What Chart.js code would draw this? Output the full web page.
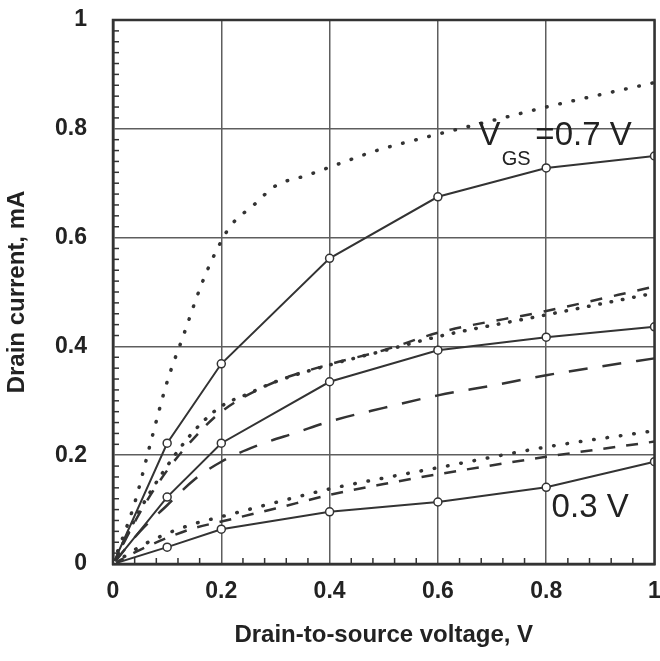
<!DOCTYPE html>
<html>
<head>
<meta charset="utf-8">
<script src="https://cdn.jsdelivr.net/npm/chart.js@4/dist/chart.umd.min.js"></script>
<style>
  body { margin: 0; background: #fff; }
  #wrap { width: 660px; height: 661px; }
</style>
</head>
<body>
<div id="wrap"><canvas id="chart"></canvas></div>
<script>
// measured points (solid lines with open circles)
const vdsMeas = [0, 0.1, 0.2, 0.4, 0.6, 0.8, 1];
const idMeas07 = [0, 0.222, 0.368, 0.562, 0.675, 0.728, 0.75];
const idMeas05 = [0, 0.123, 0.222, 0.335, 0.393, 0.417, 0.436];
const idMeas03 = [0, 0.031, 0.064, 0.096, 0.114, 0.141, 0.188];

// dotted model curves
const vdsDot07 = [0, 0.04, 0.07, 0.1, 0.13, 0.165, 0.19, 0.216, 0.26, 0.3, 0.36, 0.41, 0.49, 0.58, 0.74, 0.8, 1];
const idDot07 = [0, 0.112, 0.225, 0.335, 0.42, 0.518, 0.574, 0.62, 0.66, 0.695, 0.715, 0.733, 0.761, 0.785, 0.825, 0.84, 0.885];
const vdsDot05 = [0, 0.05, 0.1, 0.15, 0.2, 0.25, 0.3, 0.4, 0.5, 0.6, 0.8, 1];
const idDot05 = [0, 0.1, 0.18, 0.245, 0.29, 0.313, 0.335, 0.366, 0.392, 0.418, 0.458, 0.498];
const vdsDot03 = [0, 0.05, 0.1, 0.15, 0.2, 0.3, 0.4, 0.5, 0.6, 0.8, 1];
const idDot03 = [0, 0.032, 0.056, 0.074, 0.087, 0.113, 0.138, 0.158, 0.177, 0.215, 0.245];

// dashed model curves
const vdsDash05 = [0, 0.05, 0.1, 0.15, 0.2, 0.3, 0.4, 0.5, 0.6, 0.8, 1];
const idDash05 = [0, 0.095, 0.172, 0.232, 0.28, 0.335, 0.367, 0.393, 0.425, 0.465, 0.51];
const vdsDash03 = [0, 0.05, 0.1, 0.15, 0.2, 0.3, 0.4, 0.5, 0.6, 0.8, 1];
const idDash03 = [0, 0.026, 0.048, 0.066, 0.078, 0.102, 0.127, 0.147, 0.165, 0.197, 0.225];

// long dashed curve
const vdsLong = [0, 0.05, 0.1, 0.15, 0.2, 0.27, 0.34, 0.4, 0.5, 0.6, 0.7, 0.8, 0.9, 1];
const idLong = [0, 0.06, 0.108, 0.155, 0.188, 0.219, 0.242, 0.262, 0.287, 0.31, 0.328, 0.347, 0.363, 0.378];

const ink = '#333';
const fontFam = '"Liberation Sans", Arial, Helvetica, sans-serif';

function pts(xs, ys) {
  return xs.map((x, i) => ({ x: x, y: ys[i] }));
}

function measured(ys) {
  return {
    data: pts(vdsMeas, ys),
    showLine: true,
    borderColor: ink,
    borderWidth: 2,
    pointRadius: 4,
    pointBackgroundColor: '#fff',
    pointBorderColor: ink,
    pointBorderWidth: 1.5
  };
}

function model(xs, ys, dash, width) {
  return {
    data: pts(xs, ys),
    showLine: true,
    borderColor: ink,
    borderWidth: width,
    borderDash: dash,
    borderCapStyle: dash[0] < 2 ? 'round' : 'butt',
    cubicInterpolationMode: 'monotone',
    pointRadius: 0
  };
}

// drop the automatic label overhang so the plot fills the frame like the original
function noOverhang(scale) {
  scale.paddingLeft = 0;
  scale.paddingRight = 0;
  scale.paddingTop = 0;
  scale.paddingBottom = 0;
}

// frame, inward minor ticks and curve labels
const extras = {
  id: 'extras',
  afterDraw(chart) {
    const { ctx, chartArea: a, scales: { x, y } } = chart;
    ctx.save();
    ctx.strokeStyle = ink;
    ctx.lineWidth = 1.5;
    for (let i = 1; i < 50; i++) {
      if (i % 10 === 0) continue;
      const py = y.getPixelForValue(i * 0.02);
      ctx.beginPath();
      ctx.moveTo(a.left, py);
      ctx.lineTo(a.left + 6, py);
      ctx.stroke();
    }
    for (let i = 1; i < 25; i++) {
      if (i % 5 === 0) continue;
      const px = x.getPixelForValue(i * 0.04);
      ctx.beginPath();
      ctx.moveTo(px, a.bottom);
      ctx.lineTo(px, a.bottom - 6);
      ctx.stroke();
    }
    ctx.lineWidth = 2.5;
    ctx.strokeRect(a.left, a.top, a.right - a.left, a.bottom - a.top);

    ctx.fillStyle = '#222';
    ctx.textBaseline = 'alphabetic';
    ctx.textAlign = 'left';
    ctx.font = '33px ' + fontFam;
    ctx.fillText('V', x.getPixelForValue(0.675), y.getPixelForValue(0.77));
    ctx.fillText('=0.7 V', x.getPixelForValue(0.78), y.getPixelForValue(0.77));
    ctx.fillText('0.3 V', x.getPixelForValue(0.81), y.getPixelForValue(0.086));
    ctx.font = '20px ' + fontFam;
    ctx.fillText('GS', x.getPixelForValue(0.718), y.getPixelForValue(0.733));
    ctx.restore();
  }
};

const tickFont = { family: fontFam, size: 23, weight: 'bold' };
const titleFont = { family: fontFam, size: 24, weight: 'bold' };

new Chart(document.getElementById('chart'), {
  type: 'scatter',
  data: {
    datasets: [
      measured(idMeas07),
      measured(idMeas05),
      measured(idMeas03),
      model(vdsDot07, idDot07, [0.5, 13], 3.5),
      model(vdsDot05, idDot05, [0.5, 11], 3.5),
      model(vdsDot03, idDot03, [0.5, 13], 3.5),
      model(vdsDash05, idDash05, [12, 12], 2.5),
      model(vdsDash03, idDash03, [12, 11], 2.5),
      model(vdsLong, idLong, [19, 15], 2.5)
    ]
  },
  options: {
    responsive: true,
    maintainAspectRatio: false,
    animation: false,
    layout: { padding: { top: 20, right: 5, left: 0, bottom: 0 } },
    plugins: {
      legend: { display: false },
      tooltip: { enabled: false }
    },
    scales: {
      x: {
        type: 'linear',
        min: 0,
        max: 1,
        afterFit(scale) { scale.height = 97; noOverhang(scale); },
        ticks: {
          stepSize: 0.2,
          padding: 14,
          color: '#222',
          font: tickFont,
          maxRotation: 0,
          callback: v => String(Number(v.toFixed(1)))
        },
        grid: { color: '#5e5e5e', lineWidth: 1.5, drawTicks: false },
        border: { color: ink, width: 2.5 },
        title: {
          display: true,
          text: 'Drain-to-source voltage, V',
          color: '#222',
          font: titleFont,
          padding: { top: 0, bottom: 11 }
        }
      },
      y: {
        type: 'linear',
        min: 0,
        max: 1,
        afterFit(scale) { scale.width = 113; noOverhang(scale); },
        ticks: {
          stepSize: 0.2,
          padding: 26,
          color: '#222',
          font: tickFont,
          callback: v => String(Number(v.toFixed(1)))
        },
        grid: { color: '#5e5e5e', lineWidth: 1.5, drawTicks: false },
        border: { color: ink, width: 2.5 },
        title: {
          display: true,
          text: 'Drain current, mA',
          color: '#222',
          font: titleFont,
          padding: { top: 3, bottom: 0 }
        }
      }
    }
  },
  plugins: [extras]
});
</script>
</body>
</html>
